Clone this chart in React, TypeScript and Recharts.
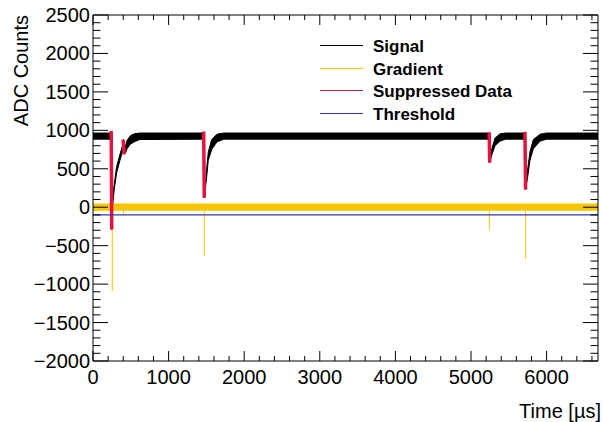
import { ComposedChart, Area, Line, XAxis, YAxis, Legend } from "recharts";

const FONT = "'Liberation Sans', Arial, Helvetica, sans-serif";
const XMAX = 6680;

// major ticks, minors are every fifth between them
const X_MAJOR = [0, 1000, 2000, 3000, 4000, 5000, 6000];
const Y_MAJOR = [-2000, -1500, -1000, -500, 0, 500, 1000, 1500, 2000, 2500];

// [time, low edge, high edge] of the noisy signal band
const SIGNAL: [number, number, number][] = [
  [0, 885, 965],
  [238, 885, 965],
  [247, -290, -220],
  [262, 60, 140],
  [282, 240, 310],
  [313, 450, 530],
  [357, 610, 690],
  [390, 720, 800],
  [402, 800, 880],
  [414, 690, 740],
  [428, 700, 790],
  [450, 760, 870],
  [495, 820, 930],
  [545, 850, 955],
  [620, 880, 965],
  [1462, 885, 965],
  [1472, 120, 180],
  [1500, 360, 460],
  [1525, 610, 720],
  [1570, 750, 880],
  [1640, 850, 950],
  [1730, 885, 965],
  [5238, 885, 965],
  [5248, 580, 640],
  [5275, 680, 760],
  [5318, 800, 900],
  [5385, 860, 955],
  [5460, 885, 965],
  [5712, 885, 965],
  [5722, 230, 290],
  [5745, 360, 460],
  [5780, 610, 720],
  [5825, 760, 880],
  [5915, 860, 950],
  [6000, 885, 965],
  [XMAX, 885, 965],
];

// [time, low, high] of the gradient noise band
const GRADIENT: [number, number, number][] = [
  [0, -38, 42],
  [XMAX, -38, 42],
];

// gradient spikes: [time, from, to]
const GRADIENT_SPIKES: [number, number, number][] = [
  [255, 0, -1090],
  [405, 0, -110],
  [1472, 0, -640],
  [5243, 0, -290],
  [5723, 0, -675],
];

// suppressed samples: [t start, value start, t end, value end]
const SUPPRESSED: [number, number, number, number][] = [
  [241, 990, 248, -290],
  [398, 880, 414, 690],
  [1464, 985, 1472, 125],
  [5240, 975, 5248, 580],
  [5714, 980, 5722, 230],
];

const THRESHOLD = -100;

const LEGEND_ORDER = ["Signal", "Gradient", "Suppressed Data", "Threshold"];

const minors = (major: number[], step: number) => {
  const out: number[] = [];
  major.forEach((m, i) => {
    out.push(m);
    if (i < major.length - 1) for (let k = 1; k < 5; k++) out.push(m + k * step);
  });
  return out;
};

const X_TICKS = [...minors(X_MAJOR, 200), 6200, 6400, 6600];
const Y_TICKS = minors(Y_MAJOR, 100);

const fmt = (v: number) => (v < 0 ? "\u2212" + Math.abs(v) : String(v));

const signalData = SIGNAL.map(([t, lo, hi]) => ({ t, band: [lo, hi] }));
const gradientData = GRADIENT.map(([t, lo, hi]) => ({ t, band: [lo, hi] }));
const spikeData = GRADIENT_SPIKES.flatMap(([t, a, b]) => [
  { t, v: a },
  { t, v: b },
  { t, v: null },
]);
const suppressedData = SUPPRESSED.flatMap(([t0, v0, t1, v1]) => [
  { t: t0, v: v0 },
  { t: t1, v: v1 },
  { t: t1, v: null },
]);
const thresholdData = [
  { t: 0, v: THRESHOLD },
  { t: XMAX, v: THRESHOLD },
];

const LeftTick = ({ x, y, payload }: any) => {
  const major = payload.value % 500 === 0;
  return (
    <g>
      <line x1={x} y1={y} x2={x + (major ? 15 : 7.5)} y2={y} stroke="#000" />
      {major && (
        <text x={x - 3} y={y + 7} textAnchor="end" fontSize={20} fontFamily={FONT} fill="#000">
          {fmt(payload.value)}
        </text>
      )}
    </g>
  );
};

const RightTick = ({ x, y, payload }: any) => {
  const major = payload.value % 500 === 0;
  return <line x1={x} y1={y} x2={x - (major ? 15 : 7.5)} y2={y} stroke="#000" />;
};

const BottomTick = ({ x, y, payload }: any) => {
  const major = payload.value % 1000 === 0;
  return (
    <g>
      <line x1={x} y1={y} x2={x} y2={y - (major ? 10 : 5)} stroke="#000" />
      {major && (
        <text x={x} y={y + 23} textAnchor="middle" fontSize={20} fontFamily={FONT} fill="#000">
          {fmt(payload.value)}
        </text>
      )}
    </g>
  );
};

const TopTick = ({ x, y, payload }: any) => {
  const major = payload.value % 1000 === 0;
  return <line x1={x} y1={y} x2={x} y2={y + (major ? 10 : 5)} stroke="#000" />;
};

const YTitle = (props: any) => {
  const vb = props.viewBox || { x: 0, y: 15 };
  const x = vb.x + 28;
  const y = vb.y;
  return (
    <text x={x} y={y} transform={`rotate(-90, ${x}, ${y})`} textAnchor="end" fontSize={20} fontFamily={FONT} fill="#000">
      ADC Counts
    </text>
  );
};

const XTitle = (props: any) => {
  const vb = props.viewBox || { x: 93, y: 361, width: 505 };
  return (
    <text x={vb.x + vb.width + 3} y={vb.y + 57} textAnchor="end" fontSize={20} fontFamily={FONT} fill="#000">
      Time [µs]
    </text>
  );
};

const renderLegend = ({ payload }: any) => {
  const items = (payload || [])
    .filter((it: any) => LEGEND_ORDER.includes(it.value))
    .sort((a: any, b: any) => LEGEND_ORDER.indexOf(a.value) - LEGEND_ORDER.indexOf(b.value));
  return (
    <svg width={230} height={95}>
      {items.map((it: any, i: number) => {
        const cy = Math.round(11 + i * 22.5) + 0.5;
        return (
          <g key={it.value}>
            <line x1={4} y1={cy} x2={47} y2={cy} stroke={it.color} strokeWidth={1} />
            <text x={57} y={cy + 6} fontSize={17} fontWeight="bold" fontFamily={FONT} fill="#000">
              {it.value}
            </text>
          </g>
        );
      })}
    </svg>
  );
};

export default function App() {
  return (
    <div style={{ position: "absolute", left: 0, top: 0, width: 603, height: 422, background: "#fff" }}>
      <ComposedChart width={603} height={422} margin={{ top: 14, right: 4, bottom: 31, left: 0 }}>
        <XAxis
          xAxisId="b"
          type="number"
          dataKey="t"
          domain={[0, XMAX]}
          allowDataOverflow
          ticks={X_TICKS}
          interval={0}
          tickSize={0}
          tickMargin={0}
          tickLine={false}
          tick={<BottomTick />}
          axisLine={{ stroke: "#000" }}
          height={30}
          label={{ content: XTitle }}
        />
        <XAxis
          xAxisId="top"
          orientation="top"
          type="number"
          dataKey="t"
          domain={[0, XMAX]}
          allowDataOverflow
          ticks={X_TICKS}
          interval={0}
          tickSize={0}
          tickMargin={0}
          tickLine={false}
          tick={<TopTick />}
          axisLine={{ stroke: "#000" }}
          height={1}
        />
        <YAxis
          yAxisId="l"
          type="number"
          domain={[-2000, 2500]}
          allowDataOverflow
          ticks={Y_TICKS}
          interval={0}
          tickSize={0}
          tickMargin={0}
          tickLine={false}
          tick={<LeftTick />}
          axisLine={{ stroke: "#000" }}
          width={93}
          label={{ content: YTitle }}
        />
        <YAxis
          yAxisId="r"
          orientation="right"
          type="number"
          domain={[-2000, 2500]}
          allowDataOverflow
          ticks={Y_TICKS}
          interval={0}
          tickSize={0}
          tickMargin={0}
          tickLine={false}
          tick={<RightTick />}
          axisLine={{ stroke: "#000" }}
          width={1}
        />
        <Area
          xAxisId="b"
          yAxisId="l"
          data={signalData}
          dataKey="band"
          name="Signal"
          type="linear"
          stroke="#000"
          strokeWidth={1}
          fill="#000"
          fillOpacity={1}
          legendType="line"
          isAnimationActive={false}
        />
        <Area
          xAxisId="b"
          yAxisId="l"
          data={gradientData}
          dataKey="band"
          name="Gradient"
          type="linear"
          stroke="#f7c600"
          strokeWidth={1}
          fill="#f7c600"
          fillOpacity={1}
          legendType="line"
          isAnimationActive={false}
        />
        <Line
          xAxisId="b"
          yAxisId="l"
          data={spikeData}
          dataKey="v"
          name="Gradient spikes"
          type="linear"
          stroke="#f7c600"
          strokeWidth={1}
          dot={false}
          legendType="none"
          isAnimationActive={false}
        />
        <Line
          xAxisId="b"
          yAxisId="l"
          data={suppressedData}
          dataKey="v"
          name="Suppressed Data"
          type="linear"
          stroke="#e3153f"
          strokeWidth={3.5}
          dot={false}
          legendType="line"
          isAnimationActive={false}
        />
        <Line
          xAxisId="top"
          yAxisId="r"
          data={thresholdData}
          dataKey="v"
          name="Threshold"
          type="linear"
          stroke="#3434b0"
          strokeWidth={1.2}
          dot={false}
          legendType="line"
          isAnimationActive={false}
        />
        <Legend
          layout="horizontal"
          verticalAlign="middle"
          align="center"
          wrapperStyle={{ position: "absolute", left: 316, top: 34, width: 230, height: 95 }}
          content={renderLegend}
        />
      </ComposedChart>
    </div>
  );
}
